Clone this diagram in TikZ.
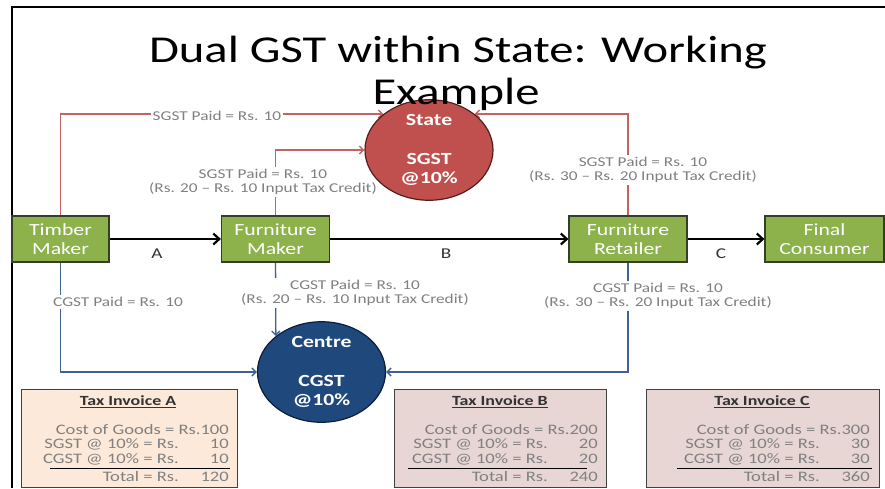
\documentclass[tikz,border=0pt]{standalone}
\usepackage{fontspec}
\setmainfont{Carlito}[FakeStretch=1.28]
\usetikzlibrary{shapes.geometric, arrows.meta, backgrounds}

\definecolor{partygreen}{RGB}{141,178,75}
\definecolor{partyline}{RGB}{55,62,40}
\definecolor{statered}{RGB}{192,80,77}
\definecolor{stateline}{RGB}{80,30,28}
\definecolor{centreblue}{RGB}{31,73,125}
\definecolor{centreline}{RGB}{12,30,55}
\definecolor{sgstred}{RGB}{196,100,98}
\definecolor{cgstblue}{RGB}{62,98,148}
\definecolor{labelgray}{RGB}{128,128,128}
\definecolor{invpeach}{RGB}{253,233,217}
\definecolor{invrose}{RGB}{232,214,212}

\newcommand{\amt}[1]{\makebox[50pt][r]{#1}}

\tikzset{
  party/.style={draw=partyline, line width=1.2pt, fill=partygreen, text=white,
    align=center, minimum height=46pt, inner sep=0pt,
    font=\fontsize{17}{19}\selectfont},
  taxbody/.style={ellipse, draw, line width=1.2pt, text=white, align=center,
    minimum width=128pt, minimum height=94pt, inner sep=0pt,
    font=\bfseries\fontsize{17}{19}\selectfont},
  flow/.style={line width=2.2pt, -{Straight Barb[length=6pt, width=11pt]}},
  sgst/.style={draw=sgstred, line width=1.4pt, -{Straight Barb[length=4pt, width=8pt]}},
  cgst/.style={draw=cgstblue, line width=1.4pt, -{Straight Barb[length=4pt, width=8pt]}},
  paid/.style={fill=white, text=labelgray, align=center, inner sep=2pt,
    font=\fontsize{13.5}{14}\selectfont},
  leg/.style={text=black!80, font=\fontsize{15}{16}\selectfont},
  invoice/.style={draw=black!75, line width=1pt},
  invtitle/.style={inner sep=0pt, text=black!80, font=\bfseries\fontsize{14}{15}\selectfont},
  invline/.style={anchor=east, inner sep=0pt, text=labelgray, font=\fontsize{14.5}{15}\selectfont}
}

\begin{document}
\begin{tikzpicture}[x=1pt, y=-1pt]

\useasboundingbox (0,0) rectangle (885,488);

% slide frame
\draw[line width=1.6pt] (12,488) -- (12,7) -- (885,7);

% =========================
% Supply chain
% =========================
\node[party, minimum width=97pt]  (timber)   at (60.5,239)  {Timber\\Maker};
\node[party, minimum width=108pt] (fmaker)   at (275.5,239) {Furniture\\Maker};
\node[party, minimum width=118pt] (retailer) at (628,239)   {Furniture\\Retailer};
\node[party, minimum width=119pt] (consumer) at (824.5,239) {Final\\Consumer};

\node[leg] (legA) at (157,254) {A};
\node[leg] (legB) at (446,254) {B};
\node[leg] (legC) at (721,254) {C};

% Payment labels
\node[paid] (paidSA) at (217,116) {SGST Paid = Rs. 10};
\node[paid] (paidSB) at (263,182) {SGST Paid = Rs. 10\\(Rs. 20 -- Rs. 10 Input Tax Credit)};
\node[paid] (paidSC) at (643,170) {SGST Paid = Rs. 10\\(Rs. 30 -- Rs. 20 Input Tax Credit)};
\node[paid] (paidCA) at (118,302) {CGST Paid = Rs. 10};
\node[paid] (paidCB) at (355,293) {CGST Paid = Rs. 10\\(Rs. 20 -- Rs. 10 Input Tax Credit)};
\node[paid] (paidCC) at (658,296) {CGST Paid = Rs. 10\\(Rs. 30 -- Rs. 20 Input Tax Credit)};

% Tax authorities
\node[taxbody, fill=statered, draw=stateline]    (state)  at (429,150)   {State\\[20pt]SGST\\@10\%};
\node[taxbody, fill=centreblue, draw=centreline] (centre) at (321.5,372) {Centre\\[20pt]CGST\\@10\%};

\begin{pgfonlayer}{background}
  \fill[white] (0,0) rectangle (885,488);

  % Goods flow
  \draw[flow] (timber) -- (fmaker);
  \draw[flow] (fmaker) -- (retailer);
  \draw[flow] (retailer) -- (consumer);

  % SGST payments
  \draw[sgst] (timber.north) |- (state.north west);
  \draw[sgst] (fmaker.north) |- (state.west);
  \draw[sgst] (retailer.north) |- (state.north east);

  % CGST payments
  \draw[cgst] (timber.south) |- (centre.west);
  \draw[cgst] (fmaker.south) -- (centre.north west);
  \draw[cgst] (retailer.south) |- (centre.east);
\end{pgfonlayer}

% =========================
% Title
% =========================
\node[anchor=base, font=\fontsize{38}{44}\selectfont] (title1) at (458,62)
    {Dual GST within State: Working};
\node[anchor=base, font=\fontsize{38}{44}\selectfont] (title2) at (456,104)
    {Example};

% =========================
% Tax invoices
% =========================
% Invoice A
\draw[invoice, fill=invpeach] (21,389) rectangle (237,487);
\node[invtitle] (invA) at (128,402) {\underline{Tax Invoice A}};
\node[invline] (costA) at (229,430) {Cost of Goods = Rs.100};
\node[invline] (sgstA) at (229,444) {SGST @ 10\% = Rs.\amt{10}};
\node[invline] (cgstA) at (229,459) {CGST @ 10\% = Rs.\amt{10}};
\draw (50,468) -- (230,468);
\node[invline] (totA) at (229,477) {Total = Rs.\amt{120}};

% Invoice B
\draw[invoice, fill=invrose] (394,389) rectangle (606,487);
\node[invtitle] (invB) at (500,402) {\underline{Tax Invoice B}};
\node[invline] (costB) at (598,430) {Cost of Goods = Rs.200};
\node[invline] (sgstB) at (598,444) {SGST @ 10\% = Rs.\amt{20}};
\node[invline] (cgstB) at (598,459) {CGST @ 10\% = Rs.\amt{20}};
\draw (408,468) -- (587,468);
\node[invline] (totB) at (598,477) {Total = Rs.\amt{240}};

% Invoice C
\draw[invoice, fill=invrose] (646,389) rectangle (879,487);
\node[invtitle] (invC) at (762,402) {\underline{Tax Invoice C}};
\node[invline] (costC) at (870,430) {Cost of Goods = Rs.300};
\node[invline] (sgstC) at (870,444) {SGST @ 10\% = Rs.\amt{30}};
\node[invline] (cgstC) at (870,459) {CGST @ 10\% = Rs.\amt{30}};
\draw (677,468) -- (872,468);
\node[invline] (totC) at (870,477) {Total = Rs.\amt{360}};

\end{tikzpicture}
\end{document}
